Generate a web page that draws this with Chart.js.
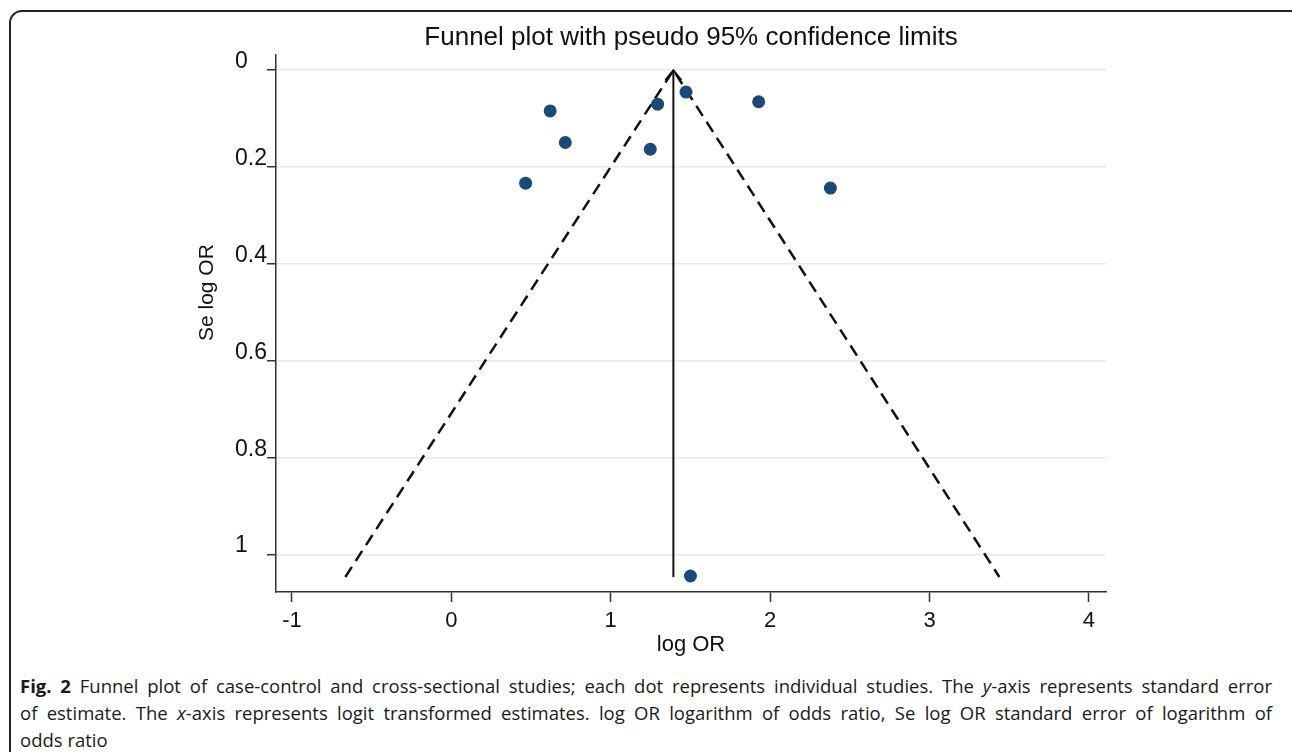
<!DOCTYPE html>
<html><head><meta charset="utf-8">
<script src="https://cdn.jsdelivr.net/npm/chart.js@4.4.1/dist/chart.umd.min.js"></script>
<style>
html,body{margin:0;padding:0;background:#fff;width:1292px;height:752px;overflow:hidden;}
#frame{position:absolute;left:9px;top:10px;width:1300px;height:800px;border:2px solid #222;border-radius:13px;box-sizing:border-box;}
#c{position:absolute;left:0;top:0;}
#cap{position:absolute;left:20px;top:672px;width:1252px;font-family:"Open Sans",sans-serif;font-size:18.5px;line-height:27px;color:#1a1a1a;}
.j{text-align:justify;text-align-last:justify;white-space:nowrap;}
</style></head><body>
<div id="frame"></div>
<canvas id="c" width="1292" height="665"></canvas>
<div id="cap">
<div class="j"><b>Fig. 2</b> Funnel plot of case-control and cross-sectional studies; each dot represents individual studies. The <i>y</i>-axis represents standard error</div>
<div class="j">of estimate. The <i>x</i>-axis represents logit transformed estimates. log OR logarithm of odds ratio, Se log OR standard error of logarithm of</div>
<div>odds ratio</div>
</div>
<script>
// Study estimates
const logOR   = [0.62, 0.715, 0.466, 1.294, 1.248, 1.472, 1.928, 2.378, 1.50];
const seLogOR = [0.084, 0.149, 0.233, 0.070, 0.163, 0.045, 0.065, 0.243, 1.043];
// Pseudo 95% confidence limits (V shape) and pooled estimate line
const limitX  = [-0.665, 1.393, 3.438];
const limitY  = [1.045, 0, 1.045];
const centerX = [1.393, 1.393];
const centerY = [0, 1.045];
// Axis ticks
const xTicks = [-1, 0, 1, 2, 3, 4];
const xTickLabels = ['-1', '0', '1', '2', '3', '4'];
const yTicks = [0, 0.2, 0.4, 0.6, 0.8, 1];
const yTickLabels = ['0', '0.2', '0.4', '0.6', '0.8', '1'];
const titleText = 'Funnel plot with pseudo 95% confidence limits';
const xTitle = 'log OR';
const yTitle = 'Se log OR';

const pts = (xs, ys) => xs.map((v, i) => ({x: v, y: ys[i]}));
const FONT = '"Liberation Sans", Arial, sans-serif';

const extras = {
  id: 'extras',
  afterDatasetsDraw(chart) {
    const {ctx, chartArea, scales: {x, y}} = chart;
    const tx = x.getPixelForValue(centerX[0]);
    const ty = y.getPixelForValue(centerY[0]);
    ctx.save();
    ctx.strokeStyle = '#111';
    ctx.lineWidth = 2;
    ctx.beginPath();
    ctx.moveTo(tx - 8, ty + 10);
    ctx.lineTo(tx, ty);
    ctx.lineTo(tx + 8, ty + 10);
    ctx.stroke();
    ctx.restore();
    ctx.save();
    ctx.translate(207, (chartArea.top + chartArea.bottom) / 2 - 31);
    ctx.rotate(-Math.PI / 2);
    ctx.font = '21px ' + FONT;
    ctx.textAlign = 'center';
    ctx.textBaseline = 'middle';
    ctx.fillStyle = '#111';
    ctx.fillText(yTitle, 0, 0);
    ctx.restore();
  }
};

new Chart(document.getElementById('c'), {
  type: 'scatter',
  data: {
    datasets: [
      {
        label: 'Studies', data: pts(logOR, seLogOR), order: 0,
        showLine: false, pointRadius: 6.5, pointHoverRadius: 6.5,
        backgroundColor: '#1b4a78', borderWidth: 0
      },
      {
        label: 'Pseudo 95% limits', data: pts(limitX, limitY), order: 1,
        showLine: true, pointRadius: 0, borderColor: '#111', borderWidth: 2.5,
        borderDash: [12, 7], fill: false, tension: 0
      },
      {
        label: 'Pooled', data: pts(centerX, centerY), order: 2,
        showLine: true, pointRadius: 0, borderColor: '#111', borderWidth: 2,
        fill: false, tension: 0
      }
    ]
  },
  options: {
    responsive: false,
    animation: false,
    layout: {padding: {left: 235, right: 186, top: 0, bottom: 0}},
    plugins: {
      legend: {display: false},
      tooltip: {enabled: false},
      title: {
        display: true, text: titleText, fullSize: false, color: '#111',
        font: {family: FONT, size: 26, weight: 'normal', lineHeight: 1.2},
        padding: {top: 22, bottom: 2}
      }
    },
    scales: {
      x: {
        type: 'linear', min: -1.1, max: 4.107,
        afterBuildTicks: s => { s.ticks = xTicks.map(v => ({value: v})); },
        afterFit: s => { s.height = 73; },
        grid: {drawOnChartArea: false, drawTicks: true, tickLength: 10, tickColor: '#333', tickWidth: 1.5},
        border: {display: true, color: '#333', width: 1.5},
        ticks: {
          padding: 6, color: '#111', maxRotation: 0, autoSkip: false,
          font: {family: FONT, size: 22},
          callback: (v) => { const i = xTicks.indexOf(v); return i >= 0 ? xTickLabels[i] : ''; }
        },
        title: {display: true, text: xTitle, color: '#111', font: {family: FONT, size: 22}, padding: {top: 0, bottom: 7}}
      },
      y: {
        type: 'linear', reverse: true, min: -0.031, max: 1.076,
        afterBuildTicks: s => { s.ticks = yTicks.map(v => ({value: v})); },
        afterFit: s => { s.width = 41; },
        grid: {color: '#e3ecec', lineWidth: 1.5, drawTicks: true, tickLength: 9, tickColor: '#333', tickWidth: 1.5},
        border: {display: true, color: '#333', width: 1.5},
        ticks: {
          crossAlign: 'far', labelOffset: -9, color: '#111', autoSkip: false,
          font: {family: FONT, size: 23},
          callback: (v) => { const i = yTicks.indexOf(v); return i >= 0 ? yTickLabels[i] : ''; }
        },
        title: {display: false}
      }
    }
  },
  plugins: [extras]
});
</script>
</body></html>
